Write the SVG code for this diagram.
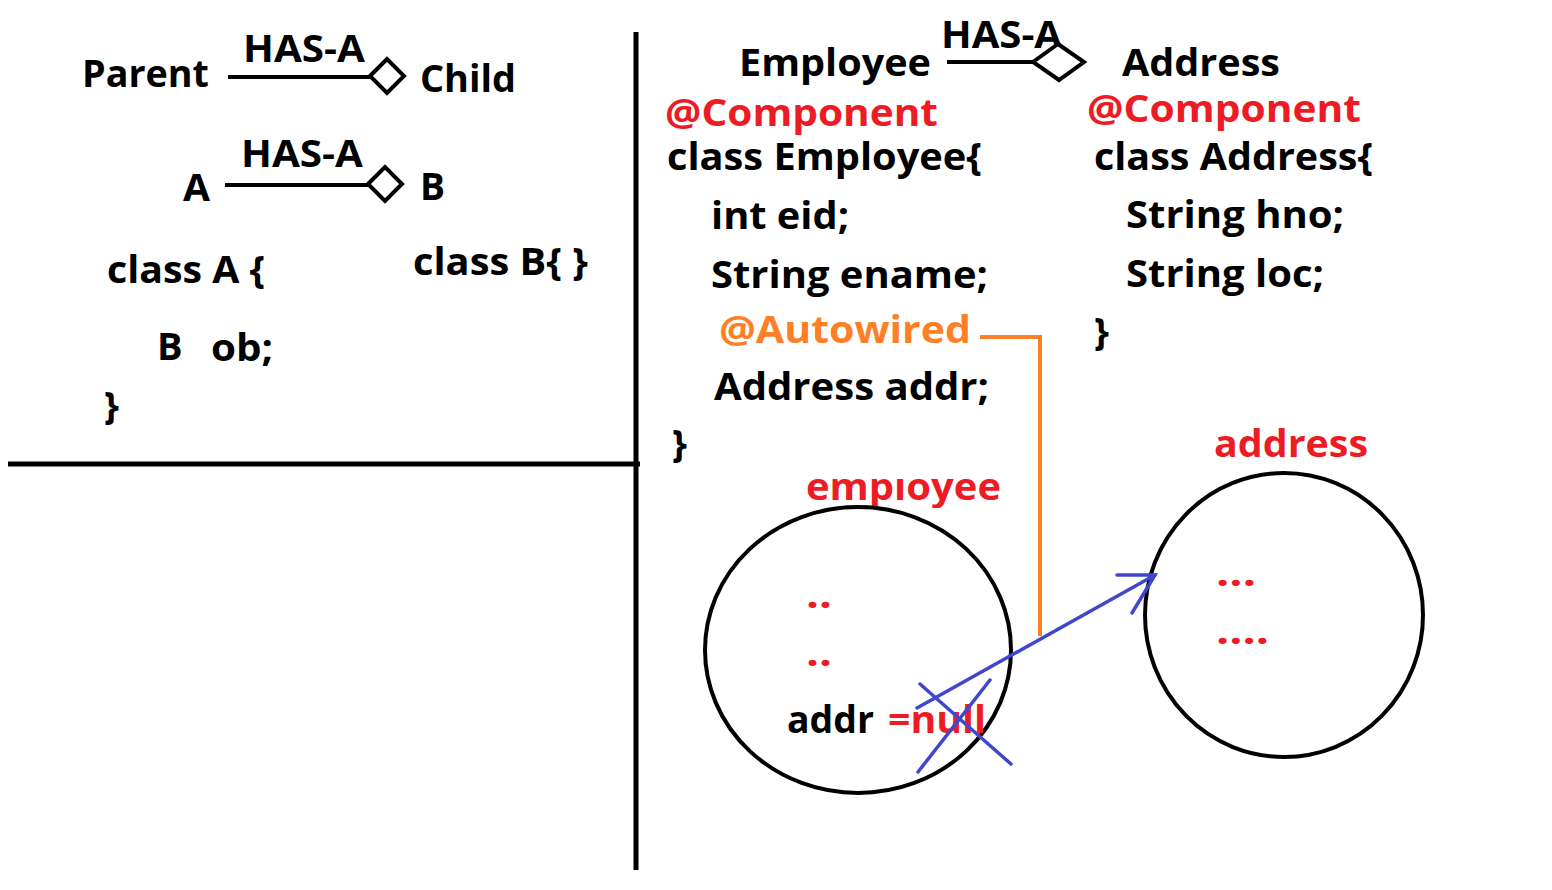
<svg xmlns="http://www.w3.org/2000/svg" width="1552" height="890" viewBox="0 0 1552 890">
<style>
text{font-family:"Open Sans","Noto Sans","Liberation Sans",sans-serif;font-weight:700;font-size:38px;fill:#000}
.red{fill:#ed1c24}
.org{fill:#ff7f27}
.ann{font-size:37px}
.ln{stroke:#000;stroke-width:4;fill:none}
.div{stroke:#000;stroke-width:5;fill:none}
.dia{stroke:#000;stroke-width:4;fill:#fff;stroke-linejoin:miter}
.circ{stroke:#000;stroke-width:4;fill:none}
.blue{stroke:#3f48cc;stroke-width:3.5;fill:none;stroke-linecap:round}
.orl{stroke:#ff7f27;stroke-width:4;fill:none}
</style>
<defs>
<clipPath id="clipEmp"><rect x="800" y="479" width="210" height="29"/></clipPath>
</defs>
<rect width="1552" height="890" fill="#fff"/>

<g id="dividers">
<line class="div" x1="636" y1="32" x2="636" y2="870"/>
<line class="div" x1="8" y1="464" x2="640" y2="464"/>
</g>

<g id="left-parent-child">
<text x="82" y="87" textLength="127" lengthAdjust="spacingAndGlyphs">Parent</text>
<text x="243" y="62" textLength="122" lengthAdjust="spacingAndGlyphs">HAS-A</text>
<text x="420" y="92" textLength="96" lengthAdjust="spacingAndGlyphs">Child</text>
</g>
<g id="left-a-b">
<text x="241" y="167" textLength="122" lengthAdjust="spacingAndGlyphs">HAS-A</text>
<text x="183" y="201" textLength="27" lengthAdjust="spacingAndGlyphs">A</text>
<text x="420" y="200" textLength="25" lengthAdjust="spacingAndGlyphs">B</text>
</g>
<g id="left-code">
<text x="107" y="283" textLength="158" lengthAdjust="spacingAndGlyphs">class A {</text>
<text x="413" y="275" textLength="175" lengthAdjust="spacingAndGlyphs">class B{ }</text>
<text x="157" y="360">B</text>
<text x="211" y="361" textLength="62" lengthAdjust="spacingAndGlyphs">ob;</text>
<text x="104" y="419">}</text>
</g>

<g id="right-header">
<text x="739" y="76" textLength="192" lengthAdjust="spacingAndGlyphs">Employee</text>
<text x="941" y="48" textLength="121" lengthAdjust="spacingAndGlyphs">HAS-A</text>
<text x="1122" y="76" textLength="158" lengthAdjust="spacingAndGlyphs">Address</text>
</g>

<g id="employee-class">
<text class="red ann" x="665" y="126" textLength="273" lengthAdjust="spacingAndGlyphs">@Component</text>
<text x="667" y="170" textLength="315" lengthAdjust="spacingAndGlyphs">class Employee{</text>
<text x="711" y="229" textLength="138" lengthAdjust="spacingAndGlyphs">int eid;</text>
<text x="711" y="288" textLength="277" lengthAdjust="spacingAndGlyphs">String ename;</text>
<text class="org" x="719" y="343" textLength="252" lengthAdjust="spacingAndGlyphs">@Autowired</text>
<text x="714" y="400" textLength="275" lengthAdjust="spacingAndGlyphs">Address addr;</text>
<text x="672" y="457">}</text>
</g>

<g id="address-class">
<text class="red ann" x="1087" y="122" textLength="274" lengthAdjust="spacingAndGlyphs">@Component</text>
<text x="1094" y="170" textLength="279" lengthAdjust="spacingAndGlyphs">class Address{</text>
<text x="1126" y="228" textLength="218" lengthAdjust="spacingAndGlyphs">String hno;</text>
<text x="1126" y="287" textLength="198" lengthAdjust="spacingAndGlyphs">String loc;</text>
<text x="1094" y="345">}</text>
</g>

<g id="employee-object">
<text class="red" x="806" y="500" textLength="195" lengthAdjust="spacingAndGlyphs" clip-path="url(#clipEmp)">employee</text>
<ellipse class="circ" cx="858" cy="650" rx="153" ry="143"/>
<text class="red" x="806" y="608" textLength="26" lengthAdjust="spacingAndGlyphs">..</text>
<text class="red" x="806" y="666" textLength="26" lengthAdjust="spacingAndGlyphs">..</text>
<text x="787" y="733" textLength="87" lengthAdjust="spacingAndGlyphs">addr</text>
<text class="red" x="888" y="733" textLength="98" lengthAdjust="spacingAndGlyphs">=null</text>
</g>

<g id="address-object">
<text class="red" x="1214" y="457" textLength="154" lengthAdjust="spacingAndGlyphs">address</text>
<ellipse class="circ" cx="1284" cy="615" rx="139" ry="142"/>
<text class="red" x="1216" y="586" textLength="40" lengthAdjust="spacingAndGlyphs">...</text>
<text class="red" x="1216" y="644" textLength="53" lengthAdjust="spacingAndGlyphs">....</text>
</g>

<g id="connectors">
<line class="ln" x1="228" y1="77" x2="370" y2="77"/>
<polygon class="dia" points="370,76 387,59 404,76 387,93"/>
<line class="ln" x1="225" y1="185" x2="368" y2="185"/>
<polygon class="dia" points="368,184 385,167 402,184 385,201"/>
<line class="ln" x1="947" y1="62" x2="1033" y2="62"/>
<polygon class="dia" points="1033,62 1058,44 1084,62 1059,80"/>
<polyline class="orl" points="980,337 1040,337 1040,636"/>
<line class="blue" x1="917" y1="708" x2="1155" y2="575"/>
<polyline class="blue" points="1117,575 1155,575 1132,613"/>
<line class="blue" x1="920" y1="684" x2="1011" y2="764"/>
<line class="blue" x1="918" y1="772" x2="990" y2="680"/>
</g>
</svg>
